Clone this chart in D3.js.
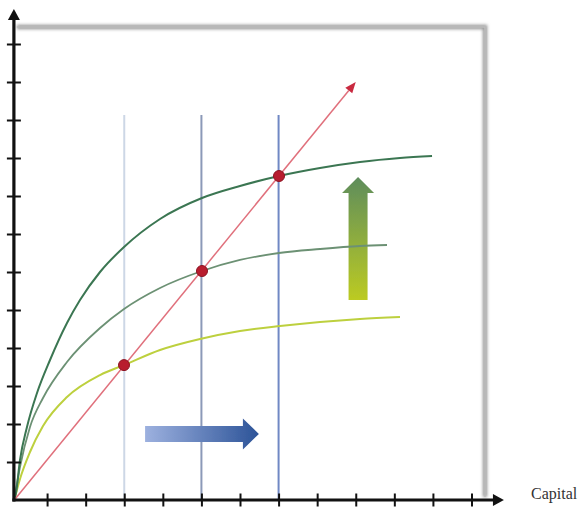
<!DOCTYPE html>
<html><head><meta charset="utf-8">
<script src="https://cdn.jsdelivr.net/npm/d3@7"></script>
<style>html,body{margin:0;padding:0;background:#fff;} svg{display:block;}</style>
</head><body><svg id="chart" width="581" height="512"></svg>
<script>
// ---- data (in axis units; one tick = 1 unit) ----
const xTicks = [1,2,3,4,5,6,7,8,9,10,11,12];
const yTicks = [1,2,3,4,5,6,7,8,9,10,11,12];
const xOrigin = 0.14;
const xAxisEnd = 12.84;
const yAxisEnd = 12.92;
const capitalLevels = [3, 5, 7];
const capitalTop = 10.13;

const highX = [0.15, 0.194, 0.298, 0.479, 0.739, 1.076, 1.516, 1.853, 2.372, 2.994, 3.927, 5.015, 6.0, 7.011, 8.074, 9.11, 10.147, 10.977];
const highY = [0, 0.184, 1.053, 1.921, 2.816, 3.684, 4.658, 5.263, 6.0, 6.658, 7.395, 7.947, 8.263, 8.526, 8.737, 8.895, 9.0, 9.053];

const midX = [0.15, 0.298, 0.557, 0.894, 1.516, 2.372, 2.994, 3.927, 5.015, 6.0, 7.011, 8.074, 9.11, 9.81];
const midY = [0, 0.868, 1.921, 2.684, 3.632, 4.526, 5.026, 5.579, 6.026, 6.316, 6.5, 6.605, 6.684, 6.711];

const lowX = [0.15, 0.298, 0.557, 0.894, 1.516, 2.372, 2.994, 3.927, 4.964, 6.0, 7.037, 8.074, 9.11, 10.147];
const lowY = [0, 0.553, 1.263, 1.947, 2.711, 3.289, 3.55, 3.947, 4.237, 4.447, 4.579, 4.684, 4.763, 4.816];

const rayX = [0.15, 9.0];
const rayY = [0, 11.0];

const steadyX = [2.994, 5.015, 7.011];
const steadyY = [3.55, 6.026, 8.526];

const frameRight = 12.35;
const frameTop = 12.45;
const frameBottom = 0.08;

const blueArrowX = [3.54, 6.49];
const blueArrowY = 1.74;
const greenArrowX = 9.06;
const greenArrowY = [5.26, 8.5];

const axisLabel = "Capital";

// ---- styles ----
const capitalColors = ["#cdd7e6", "#8b99b8", "#7088c4"];
const curveColors = {high: "#3b7652", mid: "#6c9174", low: "#bdd03e"};

// ---- scales ----
const svg = d3.select("#chart");
const x = d3.scaleLinear().domain([0, 12]).range([8.5, 471.5]);
const y = d3.scaleLinear().domain([0, 12]).range([500, 44]);

const defs = svg.append("defs");
const blur = defs.append("filter").attr("id","shadow").attr("x","-20%").attr("y","-20%").attr("width","140%").attr("height","140%");
blur.append("feGaussianBlur").attr("stdDeviation", 1.8);
const blur2 = defs.append("filter").attr("id","soft");
blur2.append("feGaussianBlur").attr("stdDeviation", 0.4);

const gBlue = defs.append("linearGradient").attr("id","gBlue").attr("x1","0").attr("x2","1").attr("y1","0").attr("y2","0");
gBlue.append("stop").attr("offset","0%").attr("stop-color","#9db1df");
gBlue.append("stop").attr("offset","100%").attr("stop-color","#2c5398");
const gGreen = defs.append("linearGradient").attr("id","gGreen").attr("x1","0").attr("x2","0").attr("y1","0").attr("y2","1");
gGreen.append("stop").attr("offset","0%").attr("stop-color","#5e8d5c");
gGreen.append("stop").attr("offset","100%").attr("stop-color","#bccb22");

// frame with shadow
svg.append("path")
  .attr("d", `M${x(xOrigin)+3},${y(frameTop)} H${x(frameRight)} V${y(frameBottom)}`)
  .attr("fill","none").attr("stroke","#9a9a9a").attr("stroke-width",4.5)
  .attr("filter","url(#shadow)");
svg.append("path")
  .attr("d", `M${x(xOrigin)+3},${y(frameTop)} H${x(frameRight)} V${y(frameBottom)}`)
  .attr("fill","none").attr("stroke","#bdbdbd").attr("stroke-width",1.5);

// capital level lines
svg.selectAll(".klevel").data(capitalLevels).enter().append("line")
  .attr("x1", d => x(d)).attr("x2", d => x(d))
  .attr("y1", y(capitalTop)).attr("y2", y(0))
  .attr("stroke", (d,i) => capitalColors[i]).attr("stroke-width", 2);

// blue arrow (capital increase)
{
  const x0 = x(blueArrowX[0]), x1 = x(blueArrowX[1]), cy = y(blueArrowY);
  const headLen = 16, bh = 8, hh = 15.5;
  svg.append("path")
    .attr("d", `M${x0},${cy-bh} H${x1-headLen} V${cy-hh} L${x1},${cy} L${x1-headLen},${cy+hh} V${cy+bh} H${x0} Z`)
    .attr("fill","url(#gBlue)").attr("filter","url(#soft)");
}
// green arrow (productivity increase)
{
  const cx = x(greenArrowX), yb = y(greenArrowY[0]), yt = y(greenArrowY[1]);
  const headLen = 16, bw = 9.5, hw = 16;
  svg.append("path")
    .attr("d", `M${cx-bw},${yb} V${yt+headLen} H${cx-hw} L${cx},${yt} L${cx+hw},${yt+headLen} H${cx+bw} V${yb} Z`)
    .attr("fill","url(#gGreen)").attr("filter","url(#soft)");
}

// curves
const line = d3.line().x(d => x(d[0])).y(d => y(d[1])).curve(d3.curveMonotoneX);
const series = [
  {xs: lowX, ys: lowY, c: curveColors.low, w: 2},
  {xs: midX, ys: midY, c: curveColors.mid, w: 1.8},
  {xs: highX, ys: highY, c: curveColors.high, w: 2}
];
series.forEach(s => {
  svg.append("path").datum(s.xs.map((v,i) => [v, s.ys[i]]))
    .attr("d", line).attr("fill","none").attr("stroke", s.c).attr("stroke-width", s.w);
});

// red ray with arrowhead
{
  const ax = x(rayX[0]), ay = y(rayY[0]), bx = x(rayX[1]), by = y(rayY[1]);
  const ang = Math.atan2(by - ay, bx - ax);
  const L = 11, W = 4.5;
  const baseX = bx - L*Math.cos(ang), baseY = by - L*Math.sin(ang);
  svg.append("line").attr("x1", ax).attr("y1", ay).attr("x2", baseX).attr("y2", baseY)
    .attr("stroke","#e0707c").attr("stroke-width",1.5);
  const px = -Math.sin(ang), py = Math.cos(ang);
  svg.append("path")
    .attr("d", `M${bx},${by} L${baseX+W*px},${baseY+W*py} L${baseX-W*px},${baseY-W*py} Z`)
    .attr("fill","#c92a40");
}

// steady-state points
svg.selectAll(".dot").data(steadyX).enter().append("circle")
  .attr("cx", d => x(d)).attr("cy", (d,i) => y(steadyY[i])).attr("r", 5.5)
  .attr("fill","#b81d2e").attr("stroke","#8c1322").attr("stroke-width",1);

// axes
const yAxisG = svg.append("g").attr("transform", `translate(${x(xOrigin)},0)`)
  .call(d3.axisLeft(y).tickValues(yTicks).tickFormat("").tickSizeOuter(0));
yAxisG.select(".domain").remove();
yAxisG.selectAll(".tick line").attr("x1",-7).attr("x2",7).attr("stroke","#111").attr("stroke-width",2);

const xAxisG = svg.append("g").attr("transform", `translate(0,${y(0)})`)
  .call(d3.axisBottom(x).tickValues(xTicks).tickFormat("").tickSizeOuter(0));
xAxisG.select(".domain").remove();
xAxisG.selectAll(".tick line").attr("y1",-6.5).attr("y2",6.5).attr("stroke","#111").attr("stroke-width",2);

const ox = x(xOrigin), oy = y(0);
svg.append("line").attr("x1", ox).attr("y1", oy+1.5).attr("x2", ox).attr("y2", y(yAxisEnd)+8)
  .attr("stroke","#111").attr("stroke-width",3.2);
svg.append("path").attr("d", `M${ox},${y(yAxisEnd)} L${ox-6},${y(yAxisEnd)+11} L${ox+6},${y(yAxisEnd)+11} Z`).attr("fill","#111");
svg.append("line").attr("x1", ox-1.5).attr("y1", oy).attr("x2", x(xAxisEnd)-8).attr("y2", oy)
  .attr("stroke","#111").attr("stroke-width",3.2);
svg.append("path").attr("d", `M${x(xAxisEnd)},${oy} L${x(xAxisEnd)-11},${oy-6} L${x(xAxisEnd)-11},${oy+6} Z`).attr("fill","#111");

svg.append("text").attr("x", 531).attr("y", 499)
  .attr("font-family","'Liberation Serif', 'Times New Roman', serif").attr("font-size",16)
  .attr("fill","#333").text(axisLabel);
</script></body></html>
